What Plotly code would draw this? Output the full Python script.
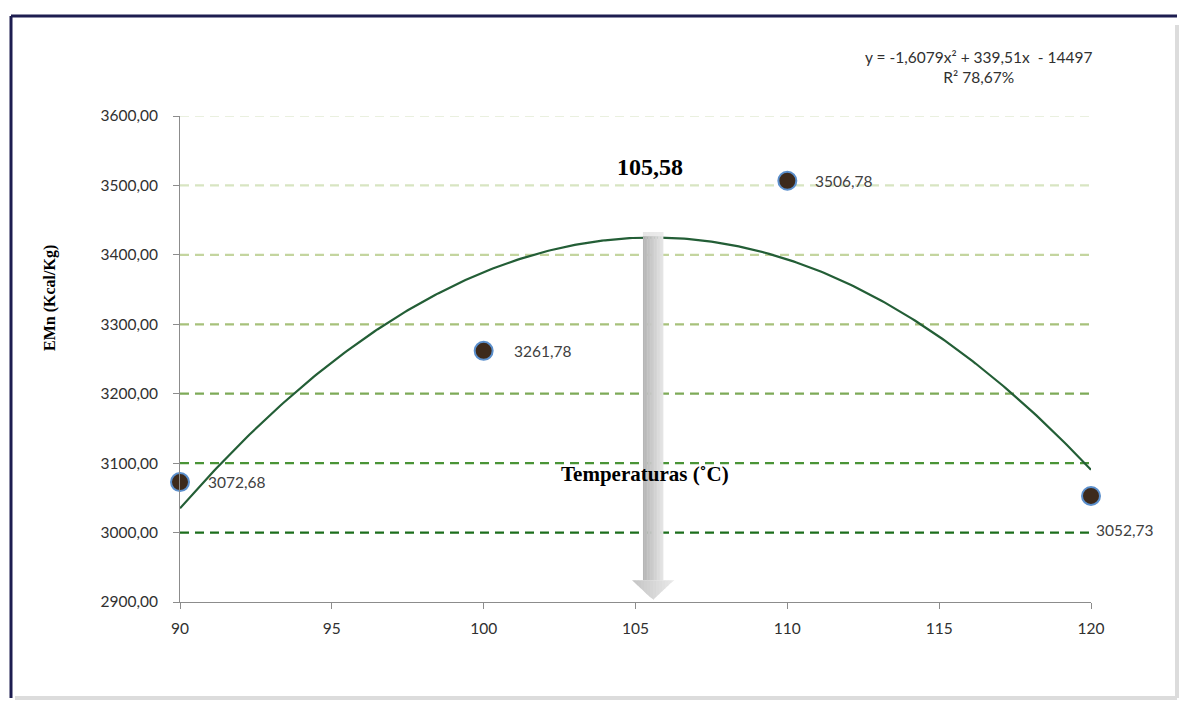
import plotly.graph_objects as go
import numpy as np

# Temperature (°C) and nitrogen-corrected metabolizable energy (Kcal/Kg)
temperaturas = [90, 100, 110, 120]
emn = [3072.68, 3261.78, 3506.78, 3052.73]

# Quadratic fit y = a*x^2 + b*x + c and its R²
coef_a, coef_b, coef_c = -1.6079, 339.51, -14497
r2_pct = 78.67

x_ticks = [90, 95, 100, 105, 110, 115, 120]
x_tick_labels = ["90", "95", "100", "105", "110", "115", "120"]
y_ticks = [2900, 3000, 3100, 3200, 3300, 3400, 3500, 3600]
y_tick_labels = ["2900,00", "3000,00", "3100,00", "3200,00", "3300,00", "3400,00", "3500,00", "3600,00"]

# Gridline colours, darkening from top to bottom
grid_vals = [3000, 3100, 3200, 3300, 3400, 3500, 3600]
grid_colors = ["#1c6e1c", "#4a9437", "#7eaa58", "#a7c17b", "#c4d59f", "#d8e5c2", "#eaf0df"]

W, H = 1180, 702
ML, MR, MT, MB = 180, 89, 116, 100
PW, PH = W - ML - MR, H - MT - MB


def comma(v, nd=2):
    return f"{v:.{nd}f}".replace(".", ",")


def px_to_paper_x(px):
    return (px - ML) / PW


def px_to_paper_y(py):
    return (H - MB - py) / PH


x_fit = np.linspace(90, 120, 301)
y_fit = coef_a * x_fit ** 2 + coef_b * x_fit + coef_c
x_vertex = -coef_b / (2 * coef_a)
y_vertex = coef_a * x_vertex ** 2 + coef_b * x_vertex + coef_c

fig = go.Figure()

fig.add_trace(go.Scatter(
    x=x_fit, y=y_fit, mode="lines",
    line=dict(color="#235e36", width=2.2),
    hoverinfo="skip", showlegend=False,
))

fig.add_trace(go.Scatter(
    x=temperaturas, y=emn, mode="markers",
    marker=dict(size=18, color="#3d2a1c", line=dict(color="#5b8fcc", width=2)),
    cliponaxis=False, showlegend=False,
))

shapes = []

# Dashed horizontal gridlines
for gv, gc in zip(grid_vals, grid_colors):
    shapes.append(dict(
        type="line", xref="x", yref="y", x0=90, x1=120, y0=gv, y1=gv,
        line=dict(color=gc, width=2.2, dash="9px,6px"), layer="below",
    ))

# Vertical arrow at the vertex of the parabola (shaded shaft + head)
shaft_half = 10
head_half = 21
head_top = 2931.5
tip = 2903
n_strips = 14
shade_l = np.array([0xb4, 0xb4, 0xb4])
shade_r = np.array([0xe6, 0xe6, 0xe6])
for i in range(n_strips):
    t = (i + 0.5) / n_strips
    col = shade_l + (shade_r - shade_l) * t
    col = "rgb(%d,%d,%d)" % tuple(col.astype(int))
    a = -shaft_half + 2 * shaft_half * i / n_strips
    b = -shaft_half + 2 * shaft_half * (i + 1) / n_strips
    shapes.append(dict(
        type="rect", xref="x", yref="y", xsizemode="pixel", xanchor=x_vertex,
        x0=a, x1=b + 0.4, y0=head_top, y1=y_vertex + 8,
        fillcolor=col, line=dict(width=0), layer="above",
    ))
# lighter cap at the top of the shaft
shapes.append(dict(
    type="rect", xref="x", yref="y", xsizemode="pixel", xanchor=x_vertex,
    x0=-shaft_half, x1=shaft_half, y0=y_vertex + 2, y1=y_vertex + 8,
    fillcolor="rgba(235,235,235,0.9)", line=dict(width=0), layer="above",
))


def head_y(xp):
    return head_top - (head_top - tip) * (1 - abs(xp) / head_half)


for i in range(n_strips):
    t = (i + 0.5) / n_strips
    col = np.array([0xc4, 0xc4, 0xc4]) + (np.array([0xea, 0xea, 0xea]) - np.array([0xc4, 0xc4, 0xc4])) * t
    col = "rgb(%d,%d,%d)" % tuple(col.astype(int))
    a = -head_half + 2 * head_half * i / n_strips
    b = -head_half + 2 * head_half * (i + 1) / n_strips
    pts = [(a, head_top), (b + 0.4, head_top), (b + 0.4, head_y(min(b + 0.4, head_half)))]
    if a < 0 < b:
        pts.append((0, tip))
    pts.append((a, head_y(a)))
    path = "M " + " L ".join(f"{p[0]:.2f},{p[1]:.2f}" for p in pts) + " Z"
    shapes.append(dict(
        type="path", xref="x", yref="y", xsizemode="pixel", xanchor=x_vertex,
        path=path, fillcolor=col, line=dict(width=0), layer="above",
    ))

# Outer frame: dark top/left edges, soft grey right/bottom edges
fx0, fx1 = px_to_paper_x(11), px_to_paper_x(1177)
fy0, fy1 = px_to_paper_y(698), px_to_paper_y(16)
shapes += [
    dict(type="line", xref="paper", yref="paper", x0=fx0, x1=fx1, y0=fy1, y1=fy1,
         line=dict(color="#1d1d50", width=3)),
    dict(type="line", xref="paper", yref="paper", x0=fx0, x1=fx0, y0=fy0, y1=fy1,
         line=dict(color="#1d1d50", width=3)),
    dict(type="line", xref="paper", yref="paper", x0=fx1, x1=fx1, y0=fy0, y1=px_to_paper_y(25),
         line=dict(color="#dcdcdc", width=4)),
    dict(type="line", xref="paper", yref="paper", x0=px_to_paper_x(15), x1=fx1, y0=fy0, y1=fy0,
         line=dict(color="#dcdcdc", width=4)),
]

sans = "Lato, 'Open Sans', sans-serif"
label_font = dict(family=sans, size=15.5, color="#404040")
annotations = []

# Data labels
label_shift = [(26, 0), (28, 0), (26, 0), (3, -34)]
for xv, yv, (dx, dy) in zip(temperaturas, emn, label_shift):
    annotations.append(dict(
        x=xv, y=yv, xref="x", yref="y", text=comma(yv), showarrow=False,
        xanchor="left", yanchor="middle", xshift=dx, yshift=dy, font=label_font,
    ))

# Fitted equation and R²
eq_text = (f"y = {comma(coef_a, 4)}x² + {comma(coef_b, 2)}x  - {abs(coef_c)}"
           f"<br>R² {comma(r2_pct)}%")
annotations.append(dict(
    x=px_to_paper_x(978), y=px_to_paper_y(67), xref="paper", yref="paper",
    text=eq_text, showarrow=False, xanchor="center", yanchor="middle",
    align="center", font=dict(family=sans, size=15.5, color="#303030"),
))

serif = "'Liberation Serif', 'Times New Roman', serif"
annotations.append(dict(
    x=x_vertex, y=px_to_paper_y(167), xref="x", yref="paper",
    text=f"<b>{comma(x_vertex)}</b>", showarrow=False,
    xanchor="center", yanchor="middle", xshift=-3,
    font=dict(family=serif, size=24, color="#000000"),
))
annotations.append(dict(
    x=px_to_paper_x(645), y=px_to_paper_y(474), xref="paper", yref="paper",
    text="<b>Temperaturas (˚C)</b>", showarrow=False,
    xanchor="center", yanchor="middle",
    font=dict(family=serif, size=21, color="#000000"),
))
annotations.append(dict(
    x=px_to_paper_x(50), y=px_to_paper_y(298), xref="paper", yref="paper",
    text="<b>EMn (Kcal/Kg)</b>", showarrow=False, textangle=-90,
    xanchor="center", yanchor="middle",
    font=dict(family=serif, size=16, color="#000000"),
))

axis_font = dict(family=sans, size=15.5, color="#303030")
fig.update_layout(
    width=W, height=H,
    margin=dict(l=ML, r=MR, t=MT, b=MB),
    paper_bgcolor="white", plot_bgcolor="white",
    shapes=shapes, annotations=annotations,
    xaxis=dict(
        range=[90, 120], tickvals=x_ticks, ticktext=x_tick_labels,
        showgrid=False, zeroline=False, showline=True, linecolor="#8c8c8c", linewidth=1,
        ticks="outside", ticklen=6, tickcolor="#8c8c8c", tickfont=axis_font,
        ticklabelstandoff=6,
    ),
    yaxis=dict(
        range=[2900, 3600], tickvals=y_ticks, ticktext=y_tick_labels,
        showgrid=False, zeroline=False, showline=True, linecolor="#8c8c8c", linewidth=1,
        ticks="outside", ticklen=6, tickcolor="#8c8c8c", tickfont=axis_font,
        ticklabelstandoff=12,
    ),
)

fig.write_html("out.html")
